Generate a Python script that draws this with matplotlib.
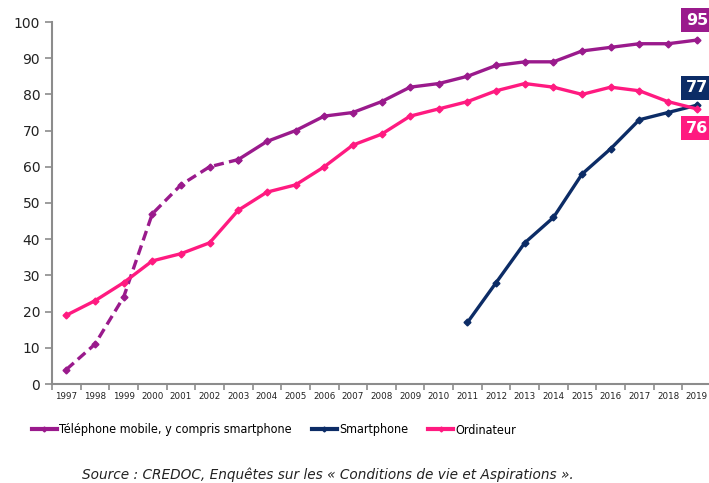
import matplotlib.pyplot as plt
from matplotlib import font_manager
import numpy as np

# --- DATI ---
annees = list(range(1997, 2020))
mobile = [4, 11, 24, 47, 55, 60, 62, 67, 70, 74, 75, 78, 82, 83, 85, 88, 89, 89, 92, 93, 94, 94, 95]
ordinateur = [19, 23, 28, 34, 36, 39, 48, 53, 55, 60, 66, 69, 74, 76, 78, 81, 83, 82, 80, 82, 81, 78, 76]
annees_smart = list(range(2011, 2020))
smartphone = [17, 28, 39, 46, 58, 65, 73, 75, 77]
fin_pointille = 2003  # mobile in tratteggio fino a questo anno

c_mobile = '#9a1a8c'
c_smart = '#0c2c66'
c_ordi = '#ff1a80'
gris = '#8c8c8c'

# font stretto (regular) per la legenda, se disponibile
condensati = [f for f in font_manager.fontManager.ttflist
              if f.name == 'DejaVu Sans' and f.stretch == 'condensed'
              and f.style == 'normal' and f.weight in (400, 'normal', 'regular', 'book')]
if condensati:
    leg_font = font_manager.FontProperties(fname=condensati[0].fname, size=9.0)
else:
    leg_font = font_manager.FontProperties(family='Liberation Sans', size=8.6)

fig = plt.figure(figsize=(7.09, 4.83), dpi=100)
ax = fig.add_axes([52/709, 99/483, 659/709, 362/483])

k = annees.index(fin_pointille)
mk = dict(marker='D', markersize=3.5, lw=2.4)
ax.plot(annees[:k + 1], mobile[:k + 1], color=c_mobile, ls=(0, (3, 1.6)), **mk)
ax.plot(annees[k:], mobile[k:], color=c_mobile, **mk)
ax.plot(annees_smart, smartphone, color=c_smart, **mk)
ax.plot(annees, ordinateur, color=c_ordi, **mk)

ax.set_xlim(annees[0] - 0.5, annees[-1] + 0.5)
ax.set_ylim(0, 100)
ax.set_yticks(np.arange(0, 101, 10))
ax.set_xticks(annees)
ax.set_xticklabels([str(a) for a in annees], fontsize=6.3)
ax.set_xticks(np.arange(annees[0] - 0.5, annees[-1] + 0.6, 1), minor=True)
ax.tick_params(axis='x', which='major', length=0, pad=6, colors='#222222')
ax.tick_params(axis='x', which='minor', length=4, direction='out', color=gris, width=1.2)
ax.tick_params(axis='y', length=5, color=gris, width=1.2, labelsize=10, labelcolor='#222222')
for s in ['top', 'right']:
    ax.spines[s].set_visible(False)
for s in ['left', 'bottom']:
    ax.spines[s].set_color(gris)
    ax.spines[s].set_linewidth(1.5)

# etichette finali
box = dict(boxstyle='square,pad=0.28', ec='none')
for val_y, testo, col in [(100.5, '95', c_mobile), (81.8, '77', c_smart), (70.7, '76', c_ordi)]:
    ax.text(2018.62, val_y, testo, color='white', fontweight='bold', fontsize=11.5,
            va='center', ha='left', bbox=dict(box, fc=col), clip_on=False)

# legenda
handles = [
    plt.Line2D([], [], color=c_mobile, marker='D', markersize=2.5, lw=3),
    plt.Line2D([], [], color=c_smart, marker='D', markersize=2.5, lw=3),
    plt.Line2D([], [], color=c_ordi, marker='D', markersize=2.5, lw=3),
]
fig.legend(handles, ['Téléphone mobile, y compris smartphone', 'Smartphone', 'Ordinateur'],
           loc='center', bbox_to_anchor=(274/709, 1 - 430/483), ncol=3, frameon=False,
           prop=leg_font, handlelength=2.0, handletextpad=0.2, columnspacing=1.6)

fig.text(82/709, 1 - 475/483, 'Source : CREDOC, Enquêtes sur les « Conditions de vie et Aspirations ».',
         style='italic', fontsize=9.8, color='#222222', va='center')

plt.savefig('out.png', dpi=100)
